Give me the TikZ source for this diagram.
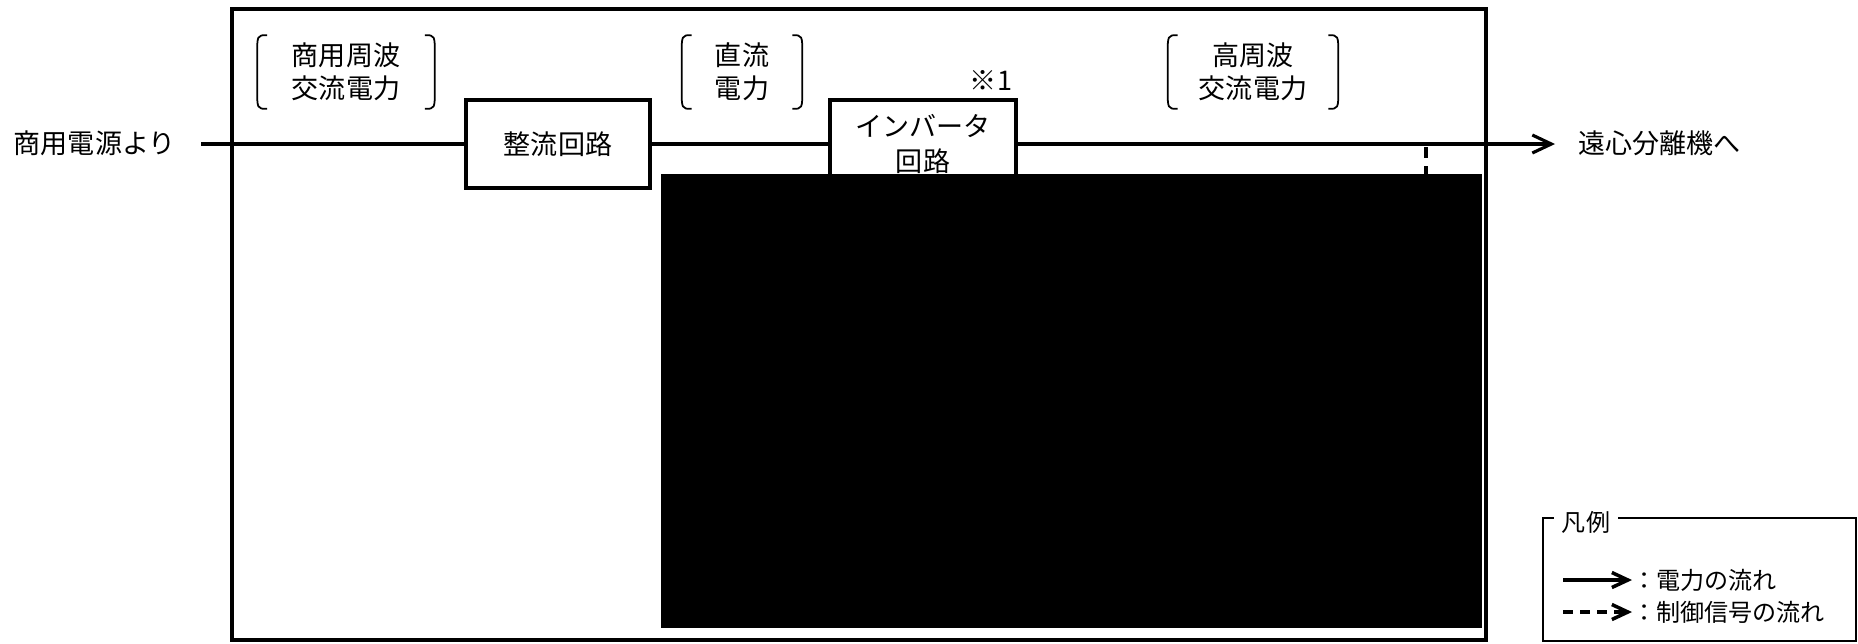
\documentclass[tikz,border=0pt]{standalone}
\usepackage{fontspec}
\setmainfont{Noto Sans CJK JP}
\usepackage{tikz}
\usetikzlibrary{positioning, arrows.meta, calc}
\definecolor{ink}{HTML}{000000}

\begin{document}
\begin{tikzpicture}[
  x=0.02cm, y=-0.02cm,
  font=\fontsize{15.4}{18.8}\selectfont,
  block/.style={draw=ink, line width=2pt, fill=white, align=center, inner sep=0pt, minimum height=1.76cm},
  paren/.style={align=center, inner sep=0pt, minimum height=1.46cm},
  brk/.style={draw=ink, line width=1pt},
  power/.style={draw=ink, line width=1.8pt},
  ctrl/.style={draw=ink, line width=1.8pt, dash pattern=on 0.22cm off 0.16cm},
  tip/.style={-{Straight Barb[length=0.38cm, width=0.36cm]}},
  smalltip/.style={-{Straight Barb[length=0.32cm, width=0.3cm]}},
  legtxt/.style={font=\fontsize{13.7}{17}\selectfont, inner sep=0pt}
]
  \useasboundingbox (0,0) rectangle (1858,643);

  % outer frame
  \draw[ink, line width=2pt] (232,9) rectangle (1486,640);

  % Row 1 — bracketed power labels
  \node[paren, minimum width=3.54cm] (acin) at (346,72) {商用周波\\交流電力};
  \node[paren, minimum width=2.4cm] (dcmid) at (742,72) {直流\\電力};
  \node[paren, minimum width=3.4cm] (hfout) at (1253,72) {高周波\\交流電力};
  \foreach \n in {acin, dcmid, hfout} {
    \draw[brk] ([xshift=0.2cm]\n.north west) .. controls (\n.north west) .. ([yshift=-0.4cm]\n.north west)
      -- ([yshift=0.4cm]\n.south west) .. controls (\n.south west) .. ([xshift=0.2cm]\n.south west);
    \draw[brk] ([xshift=-0.2cm]\n.north east) .. controls (\n.north east) .. ([yshift=-0.4cm]\n.north east)
      -- ([yshift=0.4cm]\n.south east) .. controls (\n.south east) .. ([xshift=-0.2cm]\n.south east);
  }

  % Row 2 — power path
  \node[anchor=east, inner sep=0pt] (src) at (176,143) {商用電源より};
  \node[block, minimum width=3.68cm] (rect) at (558,144) {整流回路};
  \node[block, minimum width=3.72cm, font=\fontsize{15.4}{20}\selectfont] (inv) at (923,144) {インバータ\\回路};
  \node[inner sep=0pt] (note) at (991,80) {※1};
  \node[anchor=west, inner sep=0pt] (dest) at (1578,143) {遠心分離機へ};
  \coordinate (in) at (201,144);
  \coordinate (out) at (1555,144);
  \coordinate (tap) at (1426,147);
  \coordinate (ctl) at (1426,178);

  \draw[power] (in) -- (rect);
  \draw[power] (rect) -- (inv);
  \draw[power, tip] (inv) -- (out);
  \draw[ctrl] (tap) -- (ctl);

  % masked area
  \fill[ink] (661,174) rectangle (1482,628);

  % legend
  \node[legtxt, inner xsep=0.16cm] (key) at (1586,522) {凡例};
  \coordinate (lgnw) at (1543,518);
  \coordinate (lgse) at (1856,641);
  \draw[ink, line width=0.8pt] (key.west |- lgnw) -- (lgnw) |- (lgse) |- (key.east |- lgnw);

  \node[legtxt, anchor=west] (pwtxt) at (1632,580) {：電力の流れ};
  \node[legtxt, anchor=west] (cttxt) at (1632,612) {：制御信号の流れ};
  \coordinate (pw0) at (1563,580);
  \coordinate (ct0) at (1563,612);
  \draw[power, line width=2pt, smalltip] (pw0) -- (pwtxt);
  \draw[power, line width=2pt, smalltip, dash pattern=on 0.2cm off 0.14cm] (ct0) -- (cttxt);
\end{tikzpicture}
\end{document}
